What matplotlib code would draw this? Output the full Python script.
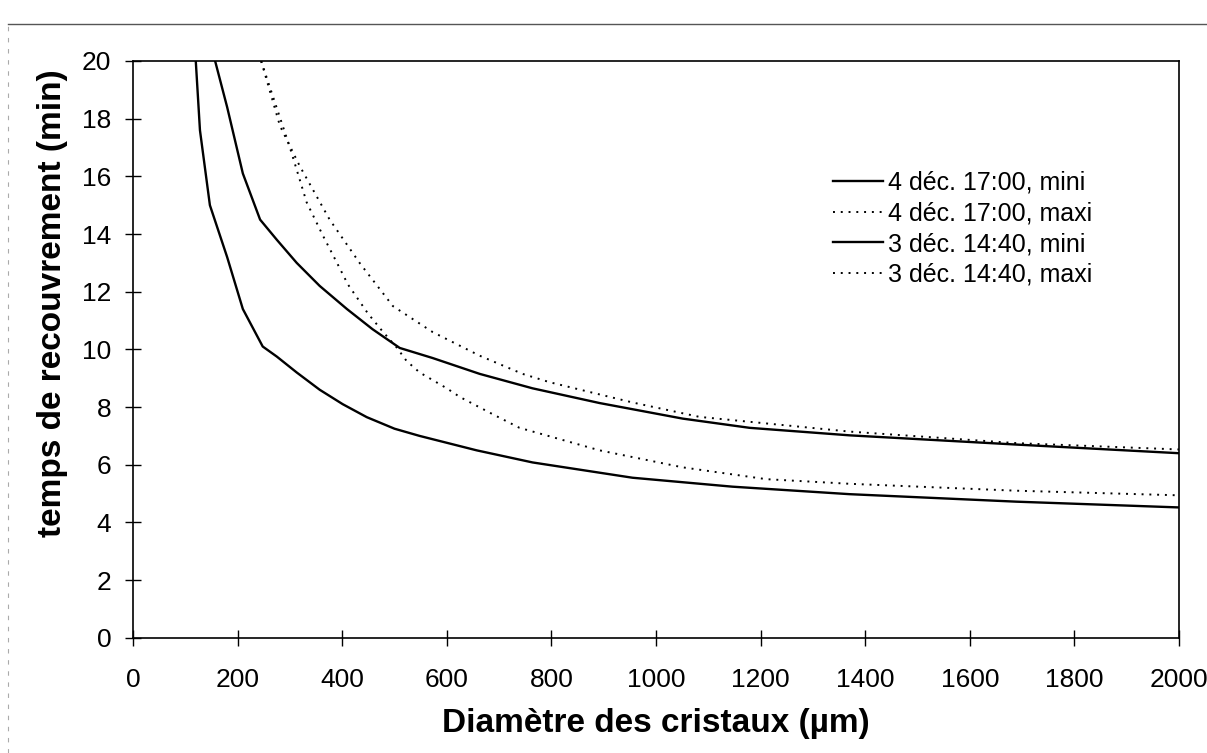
import numpy as np
import matplotlib
matplotlib.use("Agg")
import matplotlib.pyplot as plt
from matplotlib.lines import Line2D

plt.rcParams['font.family'] = ['Liberation Sans', 'DejaVu Sans']

# 4 déc. 17:00, mini (lower solid)
x_4_mini = [120, 128, 147, 180, 210, 248, 275, 313, 357, 401, 447, 500, 548,
            657, 764, 955, 1146, 1370, 1689, 2000]
y_4_mini = [20.0, 17.6, 15.0, 13.2, 11.4, 10.1, 9.75, 9.2, 8.6, 8.1, 7.65, 7.25, 7.0,
            6.5, 6.08, 5.55, 5.24, 4.98, 4.72, 4.52]

# 4 déc. 17:00, maxi (lower dotted)
x_4_maxi = [245, 300, 332, 363, 390, 411, 449, 476, 504, 523, 548, 600, 625,
            688, 739, 892, 1051, 1211, 1370, 1689, 2000]
y_4_maxi = [20.0, 17.0, 15.1, 13.95, 13.0, 12.25, 11.25, 10.65, 10.07, 9.6, 9.2, 8.65, 8.35,
            7.75, 7.28, 6.5, 5.91, 5.5, 5.34, 5.1, 4.94]

# 3 déc. 14:40, mini (upper solid)
x_3_mini = [157, 180, 210, 243, 275, 313, 357, 409, 458, 510, 573, 663, 764,
            892, 1051, 1179, 1370, 1689, 2000]
y_3_mini = [20.0, 18.4, 16.1, 14.5, 13.8, 13.0, 12.2, 11.4, 10.7, 10.05, 9.7, 9.15, 8.65,
            8.14, 7.6, 7.28, 7.02, 6.7, 6.4]

# 3 déc. 14:40, maxi (upper dotted)
x_3_maxi = [245, 281, 319, 376, 434, 497, 573, 663, 745, 797, 955, 1083, 1370, 1689, 2000]
y_3_maxi = [20.0, 17.75, 16.35, 14.5, 12.98, 11.5, 10.6, 9.78, 9.15, 8.86, 8.16, 7.66,
            7.15, 6.75, 6.53]

labels = ["4 déc. 17:00, mini", "4 déc. 17:00, maxi",
          "3 déc. 14:40, mini", "3 déc. 14:40, maxi"]

fig = plt.figure(figsize=(12.07, 7.53), dpi=100)
ax = fig.add_axes([0.1102, 0.153, 0.8666, 0.766])

dots = (0, (1, 3))
ax.plot(x_4_mini, y_4_mini, color="black", linewidth=1.7, label=labels[0])
ax.plot(x_4_maxi, y_4_maxi, color="black", linewidth=1.4, linestyle=dots, label=labels[1])
ax.plot(x_3_mini, y_3_mini, color="black", linewidth=1.7, label=labels[2])
ax.plot(x_3_maxi, y_3_maxi, color="black", linewidth=1.4, linestyle=dots, label=labels[3])

ax.set_xlim(0, 2000)
ax.set_ylim(0, 20)
ax.set_xticks(np.arange(0, 2001, 200))
ax.set_yticks(np.arange(0, 21, 2))
ax.tick_params(axis='both', direction='inout', length=11, width=1, labelsize=19)
ax.tick_params(axis='x', pad=16)
ax.tick_params(axis='y', pad=10)
for s in ax.spines.values():
    s.set_linewidth(1.2)

ax.set_xlabel("Diamètre des cristaux (µm)", fontsize=24, fontweight='bold', labelpad=12)
ax.set_ylabel("temps de recouvrement (min)", fontsize=24, fontweight='bold')
ax.yaxis.set_label_coords(-0.062, 0.58)

ax.legend(loc='upper left', bbox_to_anchor=(0.669, 0.81), frameon=False, fontsize=18,
          handlelength=2.0, handletextpad=0.2, labelspacing=0.27,
          borderpad=0, borderaxespad=0)

# chart area border of the scanned page
fig.add_artist(Line2D([8 / 1207, 1.0], [1 - 24 / 753, 1 - 24 / 753],
                      color="#555555", linewidth=1.0))
fig.add_artist(Line2D([8 / 1207, 8 / 1207], [0.0, 1 - 24 / 753],
                      color="#aaaaaa", linewidth=0.8, linestyle=(0, (4, 6))))

plt.savefig("out.png", dpi=100)
